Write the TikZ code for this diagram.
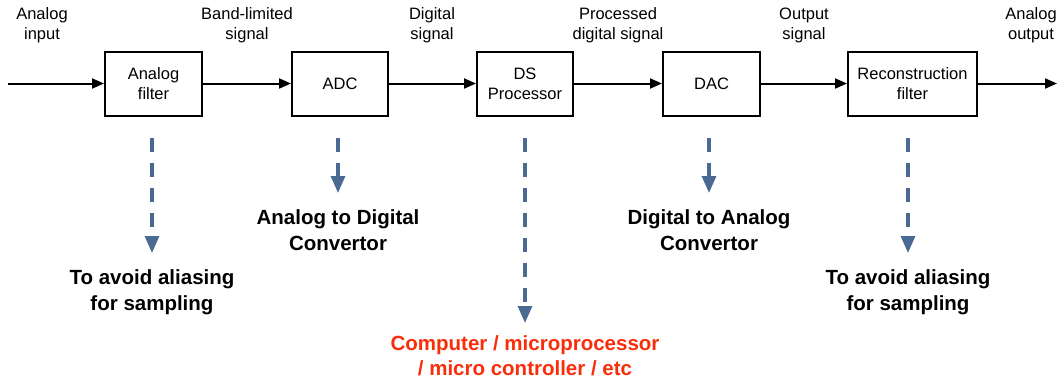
\documentclass[tikz,border=0pt]{standalone}
\usepackage{fontspec}
\setmainfont{Liberation Sans}
\usetikzlibrary{arrows.meta,positioning}

\definecolor{noteblue}{RGB}{74,106,147}
\definecolor{notered}{RGB}{250,45,10}

\tikzset{
    block/.style={draw, line width=2pt, minimum height=64pt, align=center,
        font=\fontsize{16.5}{20}\selectfont, inner sep=0pt},
    sig/.style={align=center, font=\fontsize{16.5}{20}\selectfont, inner sep=0pt},
    flow/.style={line width=2pt, -{Triangle[length=12pt,width=10pt]}},
    note/.style={noteblue, line width=3.2pt, dash pattern=on 14pt off 11pt,
        -{Triangle[length=17pt,width=14pt]}, shorten <=21pt, shorten >=16pt},
    remark/.style={align=center, anchor=north, inner sep=0pt,
        font=\fontsize{20.5}{26}\selectfont\bfseries}
}

\begin{document}
\begin{tikzpicture}[x=1pt,y=-1pt]
    \useasboundingbox (0,0) rectangle (1062,380);

    % Signal chain
    \coordinate (in) at (8,83.5);
    \coordinate (out) at (1057,83.5);
    \node[block, minimum width=97pt] (filt) at (153.5,83.5) {Analog\\filter};
    \node[block, minimum width=96pt] (adc) at (340,83.5) {ADC};
    \node[block, minimum width=96pt] (dsp) at (525,83.5) {DS\\Processor};
    \node[block, minimum width=97pt] (dac) at (711.5,83.5) {DAC};
    \node[block, minimum width=129pt] (rec) at (912.5,83.5) {Reconstruction\\filter};

    \draw[flow] (in) -- (filt);
    \draw[flow] (filt) -- (adc);
    \draw[flow] (adc) -- (dsp);
    \draw[flow] (dsp) -- (dac);
    \draw[flow] (dac) -- (rec);
    \draw[flow] (rec) -- (out);

    % Signal names
    \node[sig] (sin) at (42,25) {Analog\\input};
    \node[sig] (sband) at (247,25) {Band-limited\\signal};
    \node[sig] (sdig) at (432,25) {Digital\\signal};
    \node[sig] (sproc) at (618,25) {Processed\\digital signal};
    \node[sig] (sout) at (804,25) {Output\\signal};
    \node[sig] (sana) at (1031,25) {Analog\\output};

    % Explanations
    \node[remark] (filtnote) at (152,269) {To avoid aliasing\\for sampling};
    \node[remark] (adcnote) at (338,209) {Analog to Digital\\Convertor};
    \node[remark, text=notered, font=\fontsize{20.5}{25}\selectfont\bfseries]
        (dspnote) at (525,335) {Computer / microprocessor\\/ micro controller / etc};
    \node[remark] (dacnote) at (709,209) {Digital to Analog\\Convertor};
    \node[remark] (recnote) at (908,269) {To avoid aliasing\\for sampling};

    \draw[note] (filt.south -| filtnote.north) -- (filtnote.north);
    \draw[note] (adc.south -| adcnote.north) -- (adcnote.north);
    \draw[note, shorten >=12pt] (dsp.south -| dspnote.north) -- (dspnote.north);
    \draw[note] (dac.south -| dacnote.north) -- (dacnote.north);
    \draw[note] (rec.south -| recnote.north) -- (recnote.north);
\end{tikzpicture}
\end{document}
